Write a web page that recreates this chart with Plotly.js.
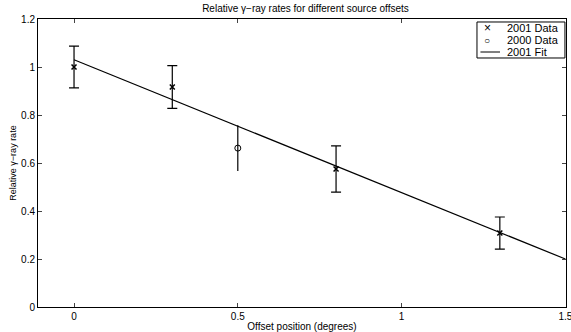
<!DOCTYPE html>
<html>
<head>
<meta charset="utf-8">
<script src="https://cdn.plot.ly/plotly-3.0.1.min.js"></script>
<style>html,body{margin:0;padding:0;background:#fff;}#chart{width:571px;height:332px;}</style>
</head>
<body>
<div id="chart"></div>
<script>
const x2001 = [0, 0.3, 0.8, 1.3];
const y2001 = [1.0, 0.917, 0.575, 0.308];
const err2001 = [0.087, 0.089, 0.096, 0.067];
const x2000 = [0.5];
const y2000 = [0.662];
const err2000 = [0.095];
const fitX = [0, 1.5];
const fitY = [1.03, 0.2];
const xTicks = [0, 0.5, 1, 1.5];
const yTicks = [0, 0.2, 0.4, 0.6, 0.8, 1, 1.2];
const legendNames = ['2001 Data', '2000 Data', '2001 Fit'];
const legendSymbols = ['\u00d7', '\u25cb', ''];

const font = {family: 'Liberation Sans, Arial, sans-serif', size: 10, color: '#000'};
const legFont = {family: 'Liberation Sans, Arial, sans-serif', size: 11, color: '#000'};

const traces = [
  {x: x2001, y: y2001, type: 'scatter', mode: 'markers', name: legendNames[0], showlegend: false,
   marker: {symbol: 'x-thin-open', size: 5, color: '#000', line: {color: '#000', width: 1.5}},
   error_y: {type: 'data', array: err2001, visible: true, color: '#000', thickness: 1.2, width: 5}},
  {x: x2000, y: y2000, type: 'scatter', mode: 'markers', name: legendNames[1], showlegend: false,
   marker: {symbol: 'circle-open', size: 6, color: '#000', line: {color: '#000', width: 1}},
   error_y: {type: 'data', array: err2000, visible: true, color: '#000', thickness: 1.2, width: 0}},
  {x: fitX, y: fitY, type: 'scatter', mode: 'lines', name: legendNames[2], showlegend: false,
   line: {color: '#000', width: 1.2}}
];

// legend box (paper coordinates)
const lgLeft = 0.8314, lgRight = 0.998, lgTop = 0.9896, lgBottom = 0.8646;
const rowY = [0.9688, 0.927, 0.8854];
const symX = 0.8504, txtX = 0.8845;
const shapes = [
  {type: 'rect', xref: 'paper', yref: 'paper', x0: lgLeft, x1: lgRight, y0: lgBottom, y1: lgTop,
   line: {color: '#000', width: 1}, fillcolor: '#fff'},
  {type: 'line', xref: 'paper', yref: 'paper', x0: 0.838, x1: 0.875, y0: rowY[2], y1: rowY[2],
   line: {color: '#000', width: 1}}
];
const annotations = [];
legendNames.forEach((n, i) => {
  annotations.push({xref: 'paper', yref: 'paper', x: txtX, y: rowY[i], xanchor: 'left', yanchor: 'middle',
    text: n, showarrow: false, font: legFont});
  if (legendSymbols[i]) annotations.push({xref: 'paper', yref: 'paper', x: symX, y: rowY[i], xanchor: 'center', yanchor: 'middle',
    text: legendSymbols[i], showarrow: false, font: {family: font.family, size: i === 0 ? 12 : 10, color: '#000'}});
});

const layout = {
  width: 571, height: 332,
  margin: {l: 38, r: 5, t: 19, b: 25},
  paper_bgcolor: '#fff', plot_bgcolor: '#fff',
  font: font,
  title: {text: 'Relative γ\u2212ray rates for different source offsets', font: {family: font.family, size: 10, color: '#000'},
          x: 0.535, xanchor: 'center', y: 0.985, yanchor: 'top'},
  xaxis: {range: [-0.11, 1.502], tickvals: xTicks, ticktext: xTicks.map(String), ticks: 'inside', ticklen: 4,
          showline: true, linecolor: '#000', linewidth: 1, mirror: 'ticks', showgrid: false, zeroline: false,
          ticklabeloverflow: 'allow',
          tickfont: font, title: {text: 'Offset position (degrees)', font: font, standoff: 2}},
  yaxis: {range: [0, 1.2], tickvals: yTicks, ticktext: yTicks.map(String), ticks: 'inside', ticklen: 4,
          showline: true, linecolor: '#000', linewidth: 1, mirror: 'ticks', showgrid: false, zeroline: false,
          tickfont: font, title: {text: 'Relative γ\u2212ray rate', font: {family: font.family, size: 9, color: '#000'}, standoff: 2}},
  showlegend: false,
  shapes: shapes,
  annotations: annotations
};

Plotly.newPlot('chart', traces, layout, {displayModeBar: false, staticPlot: true});
</script>
</body>
</html>
